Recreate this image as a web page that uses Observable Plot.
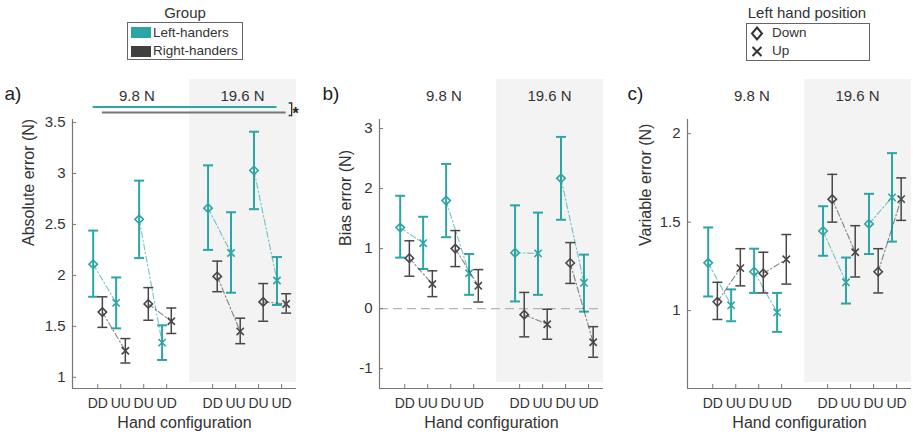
<!DOCTYPE html>
<html><head><meta charset="utf-8">
<script src="https://cdn.jsdelivr.net/npm/d3@7"></script>
<script src="https://cdn.jsdelivr.net/npm/@observablehq/plot@0.6"></script>
<style>
body{margin:0;background:#fff;font-family:"Liberation Sans",Arial,sans-serif;color:#333}
#wrap{position:relative;width:913px;height:436px;overflow:hidden;background:#fff}
#legends{position:absolute;left:0;top:0;width:913px;height:64px}
.a{position:absolute;white-space:nowrap}
.ttl{font-size:15px;line-height:18px;text-align:center}
.box{border:1px solid #666;box-sizing:border-box}
.it{font-size:13.5px;line-height:18px}
#panels{position:absolute;left:0;top:64px;display:flex}
#panels svg{display:block}
</style>
</head><body>
<div id="wrap">
  <div id="legends">
    <div class="a ttl" style="left:135px;top:4px;width:100px">Group</div>
    <div class="a box" style="left:127px;top:22px;width:116px;height:38px"></div>
    <div class="a" id="sw0" style="left:131px;top:27px;width:20px;height:11px"></div>
    <div class="a it" style="left:153px;top:24px">Left-handers</div>
    <div class="a" id="sw1" style="left:131px;top:46px;width:20px;height:11px"></div>
    <div class="a it" style="left:153px;top:42px">Right-handers</div>

    <div class="a ttl" style="left:737px;top:4px;width:140px">Left hand position</div>
    <div class="a box" style="left:746px;top:23px;width:124px;height:38px"></div>
    <svg class="a" style="left:749px;top:26px" width="16" height="34">
      <path d="M8,1.5 L13,7.5 L8,13.5 L3,7.5 Z" fill="none" stroke="#333" stroke-width="2"/>
      <path d="M3.5,21 L12.5,30 M12.5,21 L3.5,30" stroke="#333" stroke-width="2"/>
    </svg>
    <div class="a it" style="left:772px;top:24px">Down</div>
    <div class="a it" style="left:772px;top:42px">Up</div>
  </div>
  <div id="panels"></div>
</div>
<script>
// ---- data ----
const groups = ["Left-handers", "Right-handers"];
const forces = ["9.8 N", "19.6 N"];
const configs = ["DD", "UU", "DU", "UD"];
const leftHandPos = ["Down", "Up", "Down", "Up"]; // by config
const xPos = [1, 2, 3, 4, 6, 7, 8, 9];
const forceLabelX = [2.7, 7.3];

// Absolute error (N)
const absLeftMean = [2.11, 1.73, 2.55, 1.34, 2.66, 2.22, 3.03, 1.95];
const absLeftLo   = [1.79, 1.48, 2.17, 1.17, 2.25, 1.83, 2.65, 1.71];
const absLeftHi   = [2.44, 1.98, 2.93, 1.51, 3.08, 2.62, 3.41, 2.18];
const absRightMean = [1.64, 1.26, 1.72, 1.55, 1.99, 1.45, 1.74, 1.72];
const absRightLo   = [1.49, 1.14, 1.56, 1.43, 1.84, 1.33, 1.55, 1.63];
const absRightHi   = [1.79, 1.38, 1.88, 1.68, 2.14, 1.58, 1.92, 1.82];
const absTicks = [1, 1.5, 2, 2.5, 3, 3.5];

// Bias error (N)
const biasLeftMean = [1.35, 1.09, 1.80, 0.59, 0.93, 0.92, 2.17, 0.43];
const biasLeftLo   = [0.85, 0.66, 1.19, 0.23, 0.12, 0.23, 1.48, -0.05];
const biasLeftHi   = [1.88, 1.53, 2.41, 0.91, 1.72, 1.60, 2.86, 0.90];
const biasRightMean = [0.84, 0.41, 1.00, 0.38, -0.10, -0.26, 0.76, -0.56];
const biasRightLo   = [0.54, 0.20, 0.70, 0.11, -0.47, -0.51, 0.42, -0.81];
const biasRightHi   = [1.13, 0.63, 1.30, 0.65, 0.27, -0.01, 1.10, -0.30];
const biasTicks = [-1, 0, 1, 2, 3];

// Variable error (N)
const varLeftMean = [1.27, 1.03, 1.22, 0.99, 1.45, 1.16, 1.49, 1.64];
const varLeftLo   = [1.08, 0.94, 1.10, 0.88, 1.31, 1.04, 1.32, 1.39];
const varLeftHi   = [1.47, 1.12, 1.35, 1.10, 1.59, 1.30, 1.66, 1.89];
const varRightMean = [1.05, 1.24, 1.21, 1.29, 1.63, 1.33, 1.22, 1.63];
const varRightLo   = [0.95, 1.14, 1.10, 1.15, 1.50, 1.19, 1.10, 1.51];
const varRightHi   = [1.16, 1.35, 1.33, 1.43, 1.77, 1.48, 1.35, 1.75];
const varTicks = [1, 1.5, 2];

// ---- style ----
const COLORS = ["#2ba6a4", "#474747"];
const GROUP_OFFSET = [-0.2, 0.2];
const BAR_W = [2, 1.5];
const XDOMAIN = [-0.1, 9.65];
document.getElementById("sw0").style.background = COLORS[0];
document.getElementById("sw1").style.background = "#404040";

const capSymbol = {draw(ctx, size) { const w = Math.sqrt(size / Math.PI); ctx.moveTo(-w, 0); ctx.lineTo(w, 0); }};
const tickLabel = new Map(xPos.map((p, i) => [p, configs[i % 4]]));

function rowsFor(series) {
  const rows = [];
  series.forEach(([mean, lo, hi], g) => {
    mean.forEach((m, i) => {
      rows.push({
        group: groups[g], gi: g, force: forces[Math.floor(i / 4)], config: configs[i % 4],
        lhp: leftHandPos[i % 4], pos: xPos[i] + GROUP_OFFSET[g],
        mean: m, lo: lo[i], hi: hi[i],
        key: groups[g] + "|" + Math.floor(i / 2)
      });
    });
  });
  return rows;
}

function shadeMark(index, scales, values, dims) {
  const r = document.createElementNS("http://www.w3.org/2000/svg", "rect");
  const x0 = scales.x(5), x1 = dims.width - dims.marginRight;
  const y0 = dims.marginTop - 40, y1 = dims.height - dims.marginBottom - 6;
  r.setAttribute("x", x0); r.setAttribute("y", y0);
  r.setAttribute("width", x1 - x0); r.setAttribute("height", y1 - y0);
  r.setAttribute("fill", "#f3f3f3");
  return r;
}

function sigMark(index, scales, values, dims) {
  const ns = "http://www.w3.org/2000/svg";
  const g = document.createElementNS(ns, "g");
  const first = xPos[0], last = xPos[xPos.length - 1];
  const yT = dims.marginTop - 12, yD = dims.marginTop - 6.5;
  const mk = (x1, x2, y, c) => {
    const l = document.createElementNS(ns, "line");
    l.setAttribute("x1", x1); l.setAttribute("x2", x2); l.setAttribute("y1", y); l.setAttribute("y2", y);
    l.setAttribute("stroke", c); l.setAttribute("stroke-width", 2); g.appendChild(l);
  };
  mk(scales.x(first + GROUP_OFFSET[0]), scales.x(last + GROUP_OFFSET[0]), yT, COLORS[0]);
  mk(scales.x(first + GROUP_OFFSET[1]), scales.x(last + GROUP_OFFSET[1]), yD, "#777");
  const bx = scales.x(last + GROUP_OFFSET[1]) + 6;
  const p = document.createElementNS(ns, "path");
  p.setAttribute("d", `M${bx - 3},${yT - 4} H${bx} V${yD + 3} H${bx - 3}`);
  p.setAttribute("fill", "none"); p.setAttribute("stroke", "#333"); p.setAttribute("stroke-width", 1.3);
  g.appendChild(p);
  const t = document.createElementNS(ns, "text");
  t.setAttribute("x", bx + 4); t.setAttribute("y", yD + 6);
  t.setAttribute("font-size", 16); t.setAttribute("font-weight", "bold"); t.setAttribute("fill", "#222");
  t.textContent = "*";
  g.appendChild(t);
  return g;
}

function panel({letter, letterDx, yLabel, yLabelDx, series, yDomain, yTicks, width, ml, mr, zero, sig}) {
  const rows = rowsFor(series);
  const H = 372, mt = 55, mb = 48;
  const marks = [shadeMark];
  if (zero) marks.push(Plot.ruleY([0], {stroke: "#b5b5b5", strokeWidth: 1.3, strokeDasharray: "9,5"}));
  marks.push(
    Plot.ruleX([XDOMAIN[0]], {stroke: "#777", strokeWidth: 1.2}),
    Plot.ruleY([yDomain[0]], {stroke: "#777", strokeWidth: 1.2}),
    Plot.axisY(yTicks, {tickSize: -4, tickPadding: 11, tickFormat: d => String(d), fontSize: 15, stroke: "#777", label: null}),
    Plot.axisX(xPos, {tickSize: -4, tickPadding: 14, tickFormat: d => tickLabel.get(d), fontSize: 14, stroke: "#777", label: null}),
    Plot.text(forces.map((f, i) => ({f, x: forceLabelX[i]})), {x: "x", text: "f", frameAnchor: "top", dy: -29, fontSize: 15, fill: "#333"}),
    Plot.text([letter], {frameAnchor: "top-left", dx: letterDx, dy: -33, textAnchor: "start", fontSize: 19, fill: "#222"}),
    Plot.text([yLabel], {frameAnchor: "left", rotate: -90, dx: yLabelDx, dy: -8, fontSize: 16, fill: "#333"}),
    Plot.text(["Hand configuration"], {frameAnchor: "bottom", dy: 39, fontSize: 16, fill: "#333"})
  );
  if (sig) marks.push(sigMark);
  [0, 1].forEach(g => {
    const R = rows.filter(d => d.gi === g);
    marks.push(
      Plot.line(R, {x: "pos", y: "mean", z: "key", stroke: COLORS[g], strokeOpacity: 0.65, strokeWidth: 1.1, strokeDasharray: "6,2.5,1.5,2.5"}),
      Plot.ruleX(R, {x: "pos", y1: "lo", y2: "hi", stroke: COLORS[g], strokeWidth: BAR_W[g]}),
      Plot.dot(R, {x: "pos", y: "lo", symbol: capSymbol, r: 5, stroke: COLORS[g], strokeWidth: BAR_W[g]}),
      Plot.dot(R, {x: "pos", y: "hi", symbol: capSymbol, r: 5, stroke: COLORS[g], strokeWidth: BAR_W[g]}),
      Plot.dot(R.filter(d => d.lhp === "Down"), {x: "pos", y: "mean", symbol: "diamond2", r: 3.8, stroke: COLORS[g], strokeWidth: 1.6, fill: "none"}),
      Plot.dot(R.filter(d => d.lhp === "Up"), {x: "pos", y: "mean", symbol: "times", r: 3.4, stroke: COLORS[g], strokeWidth: 1.6})
    );
  });
  return Plot.plot({
    width, height: H, marginTop: mt, marginBottom: mb, marginLeft: ml, marginRight: mr,
    x: {domain: XDOMAIN, label: null},
    y: {domain: yDomain, label: null},
    style: {fontFamily: "'Liberation Sans', Arial, sans-serif", color: "#333", background: "transparent", overflow: "visible"},
    marks
  });
}

const host = document.getElementById("panels");
host.appendChild(panel({
  letter: "a)", letterDx: -68, yLabel: "Absolute error (N)", yLabelDx: -44,
  series: [[absLeftMean, absLeftLo, absLeftHi], [absRightMean, absRightLo, absRightHi]],
  yDomain: [0.89, 3.53], yTicks: absTicks, width: 305, ml: 72, mr: 9, zero: false, sig: true
}));
host.appendChild(panel({
  letter: "b)", letterDx: -57, yLabel: "Bias error (N)", yLabelDx: -34,
  series: [[biasLeftMean, biasLeftLo, biasLeftHi], [biasRightMean, biasRightLo, biasRightHi]],
  yDomain: [-1.33, 3.15], yTicks: biasTicks, width: 305, ml: 74, mr: 7, zero: true, sig: false
}));
host.appendChild(panel({
  letter: "c)", letterDx: -60, yLabel: "Variable error (N)", yLabelDx: -42,
  series: [[varLeftMean, varLeftLo, varLeftHi], [varRightMean, varRightLo, varRightHi]],
  yDomain: [0.56, 2.08], yTicks: varTicks, width: 303, ml: 77, mr: 2, zero: false, sig: false
}));
</script>
</body></html>
